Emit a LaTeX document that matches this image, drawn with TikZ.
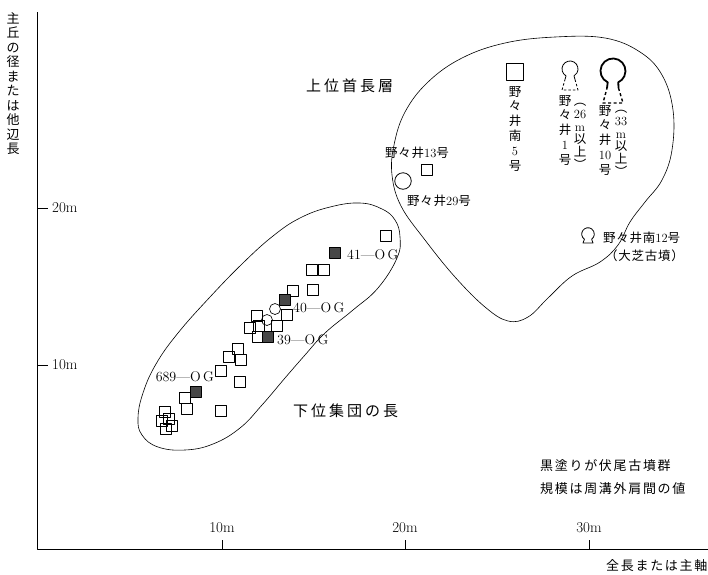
\documentclass[tikz,border=0pt]{standalone}
\usepackage{fontspec}
\newfontfamily\cjk{Noto Sans CJK JP}
\newfontfamily\cjkw[LetterSpace=13]{Noto Sans CJK JP}
\newfontfamily\cjkm[LetterSpace=6]{Noto Sans CJK JP}
\newfontfamily\cjkww[LetterSpace=20]{Noto Sans CJK JP}
\newcommand\rmd[1]{{\rmfamily #1}}
\begin{document}
\begin{tikzpicture}[x=1pt,y=-1pt,line join=round,
  sq/.style={draw,line width=0.65pt,minimum size=10.5pt,inner sep=0pt},
  sqf/.style={sq,fill=black!72},
  cir/.style={draw,circle,line width=0.65pt,minimum size=11pt,inner sep=0pt},
  num/.style={inner sep=0pt,font=\fontsize{15}{17}\selectfont},
  lab/.style={inner sep=0pt,font=\fontsize{14}{16}\selectfont},
  jp/.style={inner sep=0pt,anchor=west,font=\fontsize{12.5}{14}\selectfont\cjkm},
  note/.style={inner sep=0pt,anchor=west,font=\fontsize{13}{15}\selectfont\cjkw},
  big/.style={inner sep=0pt,anchor=west,font=\fontsize{15}{17}\selectfont\cjkww},
  vcol/.style={inner sep=0pt,anchor=north,align=center,font=\fontsize{12.5}{14.8}\selectfont\cjk},
  pcol/.style={inner sep=0pt,anchor=north,align=center,font=\fontsize{12.5}{12.8}\selectfont\cjk},
  outline/.style={line width=0.6pt},
  axis/.style={line width=1pt},
  kh/.style={line width=0.8pt}]
\useasboundingbox (0,0) rectangle (708,574);

% axes
\coordinate (ytop) at (37,12);
\coordinate (O) at (37,549);
\coordinate (xend) at (708,549);
\draw[axis] (ytop) -- (O) -- (xend);
\coordinate (ty20) at (37,208);
\coordinate (ty10) at (37,365);
\draw[axis] (ty20) -- ++(11,0);
\draw[axis] (ty10) -- ++(11,0);
\node[num,anchor=west] (ly20) at (52,208) {20m};
\node[num,anchor=west] (ly10) at (52,365) {10m};
\coordinate (tx10) at (222,549);
\coordinate (tx20) at (405,549);
\coordinate (tx30) at (589,549);
\draw[axis] (tx10) -- ++(0,-9);
\draw[axis] (tx20) -- ++(0,-9);
\draw[axis] (tx30) -- ++(0,-9);
\node[num] (lx10) at (222,528) {10m};
\node[num] (lx20) at (405,528) {20m};
\node[num] (lx30) at (589,528) {30m};

\node[vcol,font=\fontsize{13}{14.5}\selectfont\cjk] (ylab) at (13,12) {主\\丘\\の\\径\\ま\\た\\は\\他\\辺\\長};
\node[note] (xlab) at (606,566) {全長または主軸};

\node[note] (n1) at (540,466) {黒塗りが伏尾古墳群};
\node[note] (n2) at (540,489) {規模は周溝外肩間の値};

% upper group outline
\draw[outline] plot[smooth cycle,tension=0.65] coordinates {(394,145) (405,112) (428,82) (462,58) (505,43) (555,37) (605,38) (640,52) (662,75) (673,110) (672,150) (662,180) (645,202) (630,222) (618,245) (600,262) (572,276) (548,298) (528,317) (508,321) (485,307) (455,277) (425,240) (401,206) (392,175)};

% lower group outline
\draw[outline] plot[smooth cycle,tension=0.7] coordinates {(330,207) (360,203) (382,209) (395,220) (400,237) (397,258) (378,288) (353,310) (325,333) (305,355) (285,378) (262,405) (240,428) (213,444) (185,450) (158,447) (142,435) (138,418) (143,393) (156,364) (178,333) (210,297) (243,263) (273,236) (300,218)};

\node[big] (upper) at (306,86) {上位首長層};
\node[big] (lower) at (293,411) {下位集団の長};

% upper members
\node[sq,minimum size=16.5pt,line width=1.3pt] (m5) at (515,72) {};
\node[vcol] (m5t) at (515,86) {野\\々\\井\\南\\\rmd{5}\\号};

\draw[kh] (565,79.5) -- (566,75.9) arc[start angle=240,end angle=-60,radius=8pt] -- (575,79.5);
\draw[kh,dash pattern=on 2.5pt off 2pt] (575,79.5) -- (578,90) -- (562,90) -- (565,79.5);
\node[vcol] (m1t) at (565,95) {野\\々\\井\\\rmd{1}\\号};
\node[pcol] (m1p) at (580,103) {︵\\\rmd{26}\\\rmd{m}\\以\\上\\︶};

\draw[line width=1.8pt] (607,88) -- (607.7,82.3) arc[start angle=245,end angle=-65,radius=12.5pt] -- (618.5,88);
\draw[line width=1.4pt,dash pattern=on 3pt off 2.5pt] (618.5,88) -- (623,103) -- (603,103) -- (607,88);
\node[vcol] (m10t) at (605,105) {野\\々\\井\\\rmd{10}\\号};
\node[pcol] (m10p) at (621,110) {︵\\\rmd{33}\\\rmd{m}\\以\\上\\︶};

\node[sq] (m13) at (427,170) {};
\node[jp] (m13t) at (385,153) {野々井\rmd{13}号};
\node[cir,minimum size=16.5pt,line width=0.8pt] (m29) at (403,181) {};
\node[jp] (m29t) at (407,201) {野々井\rmd{29}号};

\draw[kh] (583,243) -- (584.4,239.2) arc[start angle=235,end angle=-55,radius=6.3pt] -- (593,243) -- cycle;
\node[jp] (m12t) at (603,238) {野々井南\rmd{12}号};
\node[jp] (m12s) at (605,256) {（大芝古墳）};

% lower members
\foreach \p [count=\i] in {(386,236),(312,270),(324,270),(293,291),(313,290),(257,316),(287,315),(250,328),(259,326),(277,326),(258,337),(238,349),(229,357),(241,360),(221,371),(240,382),(185,398),(187,409),(221,411),(165,412),(169,419),(162,421),(172,426),(166,429)}
  \node[sq] (s\i) at \p {};
\foreach \p [count=\i] in {(335,253),(285,300),(268,337),(196,392)}
  \node[sqf] (f\i) at \p {};
\node[cir] (c1) at (275,309) {};
\node[cir] (c2) at (267,320) {};

\node[lab,anchor=west] (l41) at (347,255) {41---O\,G};
\node[lab,anchor=west] (l40) at (293,308) {40---O\,G};
\node[lab,anchor=west] (l39) at (277,340) {39---O\,G};
\node[lab,anchor=east] (l689) at (214,377) {689---O\,G};
\end{tikzpicture}
\end{document}
